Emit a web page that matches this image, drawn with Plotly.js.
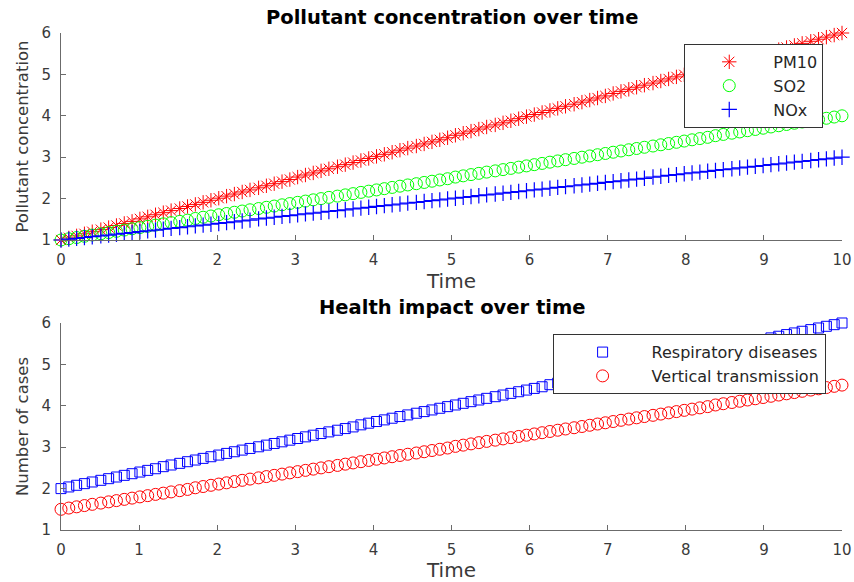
<!DOCTYPE html>
<html>
<head>
<meta charset="utf-8">
<script src="https://cdn.plot.ly/plotly-3.0.1.min.js"></script>
<style>html,body{margin:0;padding:0;background:#fff}#chart{width:854px;height:582px}</style>
</head>
<body>
<div id="chart"></div>
<script>
// Time samples (100 points from 0 to 10)
const time = [0,0.10,0.20,0.30,0.40,0.51,0.61,0.71,0.81,0.91,1.01,1.11,1.21,1.31,1.41,1.52,1.62,1.72,1.82,1.92,2.02,2.12,2.22,2.32,2.42,2.53,2.63,2.73,2.83,2.93,3.03,3.13,3.23,3.33,3.43,3.54,3.64,3.74,3.84,3.94,4.04,4.14,4.24,4.34,4.44,4.55,4.65,4.75,4.85,4.95,5.05,5.15,5.25,5.35,5.45,5.56,5.66,5.76,5.86,5.96,6.06,6.16,6.26,6.36,6.46,6.57,6.67,6.77,6.87,6.97,7.07,7.17,7.27,7.37,7.47,7.58,7.68,7.78,7.88,7.98,8.08,8.18,8.28,8.38,8.48,8.59,8.69,8.79,8.89,8.99,9.09,9.19,9.29,9.39,9.49,9.60,9.70,9.80,9.90,10];

const pm10 = [1,1.05,1.10,1.15,1.20,1.25,1.30,1.35,1.40,1.45,1.51,1.56,1.61,1.66,1.71,1.76,1.81,1.86,1.91,1.96,2.01,2.06,2.11,2.16,2.21,2.26,2.31,2.36,2.41,2.46,2.52,2.57,2.62,2.67,2.72,2.77,2.82,2.87,2.92,2.97,3.02,3.07,3.12,3.17,3.22,3.27,3.32,3.37,3.42,3.47,3.53,3.58,3.63,3.68,3.73,3.78,3.83,3.88,3.93,3.98,4.03,4.08,4.13,4.18,4.23,4.28,4.33,4.38,4.43,4.48,4.54,4.59,4.64,4.69,4.74,4.79,4.84,4.89,4.94,4.99,5.04,5.09,5.14,5.19,5.24,5.29,5.34,5.39,5.44,5.49,5.55,5.60,5.65,5.70,5.75,5.80,5.85,5.90,5.95,6];

const so2 = [1,1.03,1.06,1.09,1.12,1.15,1.18,1.21,1.24,1.27,1.30,1.33,1.36,1.39,1.42,1.45,1.48,1.52,1.55,1.58,1.61,1.64,1.67,1.70,1.73,1.76,1.79,1.82,1.85,1.88,1.91,1.94,1.97,
2,2.03,2.06,2.09,2.12,2.15,2.18,2.21,2.24,2.27,2.30,2.33,2.36,2.39,2.42,2.45,2.48,2.52,2.55,2.58,2.61,2.64,2.67,2.70,2.73,2.76,2.79,2.82,2.85,2.88,2.91,2.94,2.97,
3,3.03,3.06,3.09,3.12,3.15,3.18,3.21,3.24,3.27,3.30,3.33,3.36,3.39,3.42,3.45,3.48,3.52,3.55,3.58,3.61,3.64,3.67,3.70,3.73,3.76,3.79,3.82,3.85,3.88,3.91,3.94,3.97,4];

const nox = [1,1.02,1.04,1.06,1.08,1.10,1.12,1.14,1.16,1.18,1.20,1.22,1.24,1.26,1.28,1.30,1.32,1.34,1.36,1.38,1.40,1.42,1.44,1.46,1.48,
1.51,1.53,1.55,1.57,1.59,1.61,1.63,1.65,1.67,1.69,1.71,1.73,1.75,1.77,1.79,1.81,1.83,1.85,1.87,1.89,1.91,1.93,1.95,1.97,1.99,
2.01,2.03,2.05,2.07,2.09,2.11,2.13,2.15,2.17,2.19,2.21,2.23,2.25,2.27,2.29,2.31,2.33,2.35,2.37,2.39,2.41,2.43,2.45,2.47,2.49,
2.52,2.54,2.56,2.58,2.60,2.62,2.64,2.66,2.68,2.70,2.72,2.74,2.76,2.78,2.80,2.82,2.84,2.86,2.88,2.90,2.92,2.94,2.96,2.98,3];

const respiratory = [2,2.04,2.08,2.12,2.16,2.20,2.24,2.28,2.32,2.36,2.40,2.44,2.48,2.53,2.57,2.61,2.65,2.69,2.73,2.77,2.81,2.85,2.89,2.93,2.97,
3.01,3.05,3.09,3.13,3.17,3.21,3.25,3.29,3.33,3.37,3.41,3.45,3.49,3.54,3.58,3.62,3.66,3.70,3.74,3.78,3.82,3.86,3.90,3.94,3.98,
4.02,4.06,4.10,4.14,4.18,4.22,4.26,4.30,4.34,4.38,4.42,4.46,4.51,4.55,4.59,4.63,4.67,4.71,4.75,4.79,4.83,4.87,4.91,4.95,4.99,
5.03,5.07,5.11,5.15,5.19,5.23,5.27,5.31,5.35,5.39,5.43,5.47,5.52,5.56,5.60,5.64,5.68,5.72,5.76,5.80,5.84,5.88,5.92,5.96,6];

const vertical = [1.50,1.53,1.56,1.59,1.62,1.65,1.68,1.71,1.74,1.77,1.80,1.83,1.86,1.89,1.92,1.95,1.98,2.02,2.05,2.08,2.11,2.14,2.17,2.20,2.23,2.26,2.29,2.32,2.35,2.38,2.41,2.44,2.47,
2.50,2.53,2.56,2.59,2.62,2.65,2.68,2.71,2.74,2.77,2.80,2.83,2.86,2.89,2.92,2.95,2.98,3.02,3.05,3.08,3.11,3.14,3.17,3.20,3.23,3.26,3.29,3.32,3.35,3.38,3.41,3.44,3.47,
3.50,3.53,3.56,3.59,3.62,3.65,3.68,3.71,3.74,3.77,3.80,3.83,3.86,3.89,3.92,3.95,3.98,4.02,4.05,4.08,4.11,4.14,4.17,4.20,4.23,4.26,4.29,4.32,4.35,4.38,4.41,4.44,4.47,4.5];

const topNames = ['PM10', 'SO2', 'NOx'];
const bottomNames = ['Respiratory diseases', 'Vertical transmission'];
const xTicks = [0,1,2,3,4,5,6,7,8,9,10];
const yTicks = [1,2,3,4,5,6];

const FONT = 'DejaVu Sans, Liberation Sans, Arial, sans-serif';

const traces = [
  {x: time, y: pm10, name: topNames[0], mode: 'markers', xaxis: 'x', yaxis: 'y', legend: 'legend', cliponaxis: false,
   marker: {symbol: 'asterisk-open', size: 12, color: '#ff0000', line: {color: '#ff0000', width: 1}}},
  {x: time, y: so2, name: topNames[1], mode: 'markers', xaxis: 'x', yaxis: 'y', legend: 'legend', cliponaxis: false,
   marker: {symbol: 'circle-open', size: 12, color: '#00ff00', line: {color: '#00ff00', width: 1}}},
  {x: time, y: nox, name: topNames[2], mode: 'markers', xaxis: 'x', yaxis: 'y', legend: 'legend', cliponaxis: false,
   marker: {symbol: 'cross-thin-open', size: 11, color: '#0000ff', line: {color: '#0000ff', width: 1.2}}},
  {x: time, y: respiratory, name: bottomNames[0], mode: 'markers', xaxis: 'x2', yaxis: 'y2', legend: 'legend2', cliponaxis: false,
   marker: {symbol: 'square-open', size: 10, color: '#0000ff', line: {color: '#0000ff', width: 1}}},
  {x: time, y: vertical, name: bottomNames[1], mode: 'markers', xaxis: 'x2', yaxis: 'y2', legend: 'legend2', cliponaxis: false,
   marker: {symbol: 'circle-open', size: 12, color: '#ff0000', line: {color: '#ff0000', width: 1}}}
];

const axisCommon = {
  showline: true, linecolor: '#6b6b6b', linewidth: 1,
  ticks: 'inside', ticklen: 5, tickcolor: '#6b6b6b', tickwidth: 1,
  showgrid: false, zeroline: false, mirror: false, ticklabelstandoff: 6,
  tickfont: {family: FONT, size: 15, color: '#3a3a3a'},
  fixedrange: true
};
const axTitleFont = {family: FONT, size: 20, color: '#3a3a3a'};
const yTitleFont = {family: FONT, size: 16.5, color: '#3a3a3a'};

const legendCommon = {
  xanchor: 'right', yanchor: 'top', bgcolor: '#ffffff', bordercolor: '#333333', borderwidth: 1,
  font: {family: FONT, size: 16, color: '#262626'}, tracegroupgap: 0
};

const layout = {
  width: 854, height: 582,
  margin: {l: 61, r: 12, t: 33, b: 52},
  paper_bgcolor: '#ffffff', plot_bgcolor: '#ffffff',
  showlegend: true,
  font: {family: FONT, color: '#3a3a3a'},
  xaxis: Object.assign({}, axisCommon, {domain: [0, 1], anchor: 'y', range: [0, 10], tickvals: xTicks,
    title: {text: 'Time', font: axTitleFont, standoff: 3}}),
  yaxis: Object.assign({}, axisCommon, {domain: [0.5835, 1], anchor: 'x', range: [1, 6], tickvals: yTicks,
    title: {text: 'Pollutant concentration', font: yTitleFont, standoff: 8}}),
  xaxis2: Object.assign({}, axisCommon, {domain: [0, 1], anchor: 'y2', range: [0, 10], tickvals: xTicks,
    title: {text: 'Time', font: axTitleFont, standoff: 3}}),
  yaxis2: Object.assign({}, axisCommon, {domain: [0, 0.4165], anchor: 'x2', range: [1, 6], tickvals: yTicks,
    title: {text: 'Number of cases', font: yTitleFont, standoff: 8}}),
  legend: Object.assign({}, legendCommon, {x: 0.976, y: 0.978, itemwidth: 78}),
  legend2: Object.assign({}, legendCommon, {x: 0.979, y: 0.394, itemwidth: 88}),
  annotations: [
    {text: '<b>Pollutant concentration over time</b>', xref: 'paper', yref: 'paper', x: 0.5, y: 1, yanchor: 'bottom', yshift: 2,
     showarrow: false, font: {family: FONT, size: 19.5, color: '#000000'}},
    {text: '<b>Health impact over time</b>', xref: 'paper', yref: 'paper', x: 0.5, y: 0.4165, yanchor: 'bottom', yshift: 2,
     showarrow: false, font: {family: FONT, size: 19.5, color: '#000000'}}
  ]
};

Plotly.newPlot('chart', traces, layout, {staticPlot: true, displayModeBar: false});
</script>
</body>
</html>
